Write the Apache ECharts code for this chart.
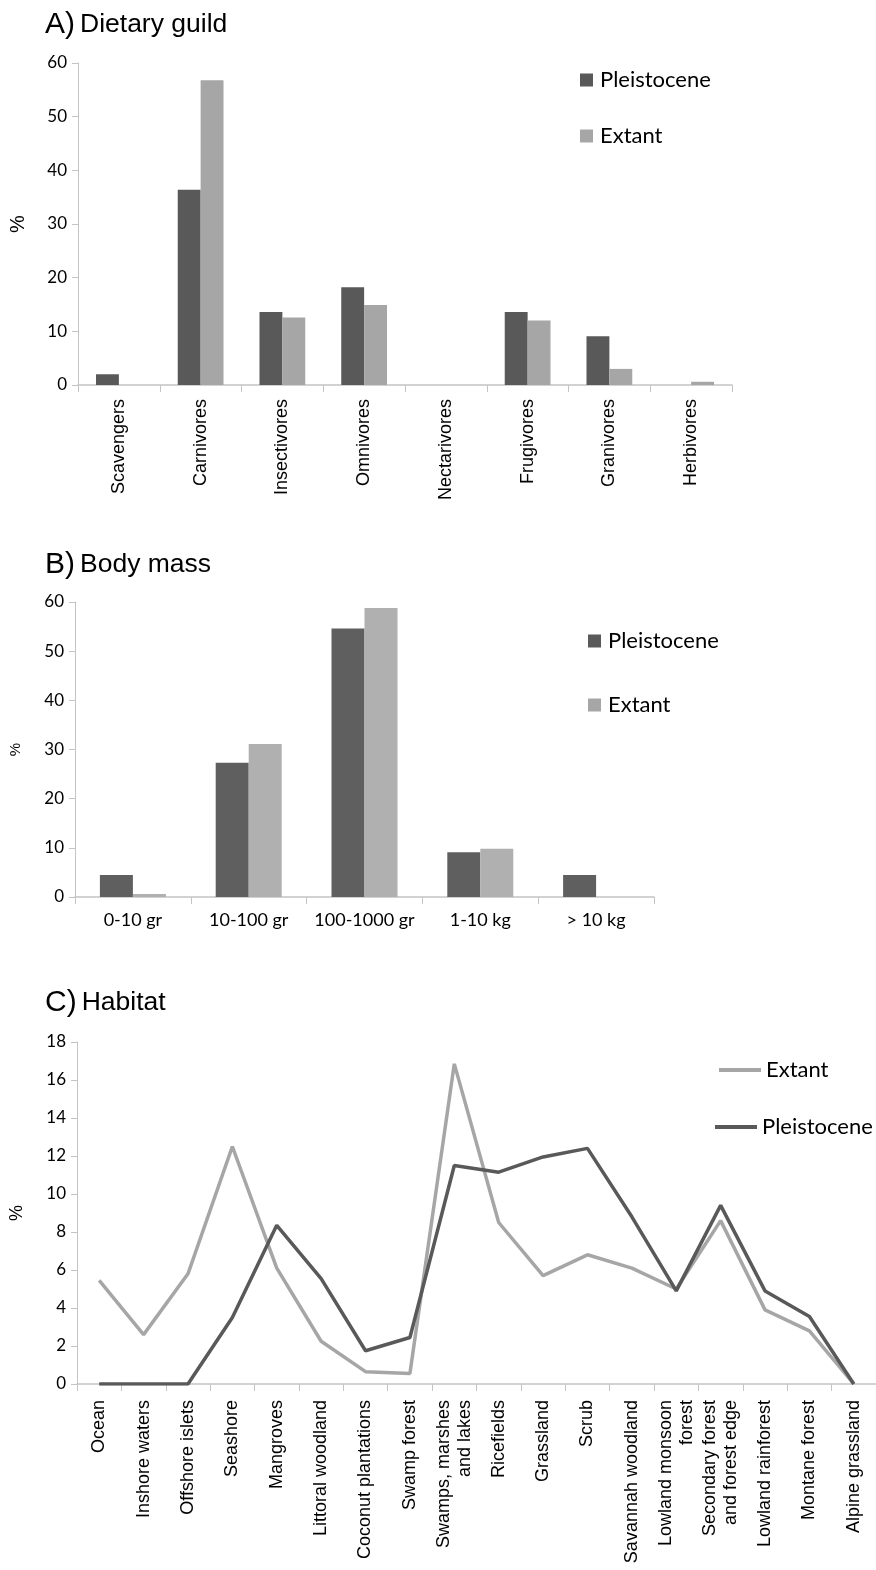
<!DOCTYPE html>
<html>
<head>
<meta charset="utf-8">
<script src="https://cdn.jsdelivr.net/npm/echarts@6/dist/echarts.min.js"></script>
<style>
html,body{margin:0;padding:0;background:#fff;}
#chart{width:876px;height:1570px;}
</style>
</head>
<body>
<div id="chart"></div>
<script>
// ---- Panel A: Dietary guild ----
const dietCategories = ['Scavengers','Carnivores','Insectivores','Omnivores','Nectarivores','Frugivores','Granivores','Herbivores'];
const dietPleistocene = [2.0, 36.4, 13.6, 18.2, 0, 13.6, 9.1, 0];
const dietExtant = [0, 56.8, 12.6, 14.9, 0, 12.0, 3.0, 0.6];

// ---- Panel B: Body mass ----
const massCategories = ['0-10 gr','10-100 gr','100-1000 gr','1-10 kg','> 10 kg'];
const massPleistocene = [4.5, 27.3, 54.6, 9.1, 4.5];
const massExtant = [0.6, 31.1, 58.8, 9.8, 0];

// ---- Panel C: Habitat ----
const habitatCategories = ['Ocean','Inshore waters','Offshore islets','Seashore','Mangroves','Littoral woodland',
  'Coconut plantations','Swamp forest','Swamps, marshes\nand lakes','Ricefields','Grassland','Scrub',
  'Savannah woodland','Lowland monsoon\nforest','Secondary forest\nand forest edge','Lowland rainforest',
  'Montane forest','Alpine grassland'];
const habitatExtant = [5.45, 2.6, 5.8, 12.5, 6.1, 2.25, 0.65, 0.55, 16.85, 8.5, 5.7, 6.8, 6.1, 5.0, 8.6, 3.9, 2.8, 0];
const habitatPleistocene = [0, 0, 0, 3.5, 8.35, 5.55, 1.75, 2.45, 11.5, 11.15, 11.95, 12.4, 8.8, 4.9, 9.4, 4.9, 3.55, 0];

const yTicksA = {min:0, max:60, interval:10};
const yTicksB = {min:0, max:60, interval:10};
const yTicksC = {min:0, max:18, interval:2};

const DARK = '#595959';
const LIGHT = '#a6a6a6';
const AXIS = '#c4c4c4';
const tickFont = 'Lato, "Open Sans", sans-serif';
const arial = '"Liberation Sans", Arial, sans-serif';

function titleOpt(letter, text, top){
  return {
    left: 40, top: top,
    text: '{a|' + letter + ')} {b|' + text + '}',
    textStyle: {
      fontWeight: 'normal',
      rich: {
        a: {fontFamily: arial, fontSize: 30, fontWeight: 'normal', color: '#000'},
        b: {fontFamily: arial, fontSize: 26.5, fontWeight: 'normal', color: '#000'}
      }
    }
  };
}

function yAxisOpt(gi, ticks, nameSize, nameGap){
  return {
    type: 'value', gridIndex: gi, min: ticks.min, max: ticks.max, interval: ticks.interval,
    name: '%', nameLocation: 'middle', nameRotate: 90, nameGap: nameGap,
    nameTextStyle: {fontFamily: arial, fontSize: nameSize, color: '#000'},
    axisLine: {show: true, lineStyle: {color: AXIS, width: 1}},
    axisTick: {show: true, length: 6, lineStyle: {color: AXIS}},
    splitLine: {show: false},
    axisLabel: {fontFamily: tickFont, fontSize: 17, color: '#000', margin: 11}
  };
}

function xAxisOpt(gi, cats, labelOpt){
  return {
    type: 'category', gridIndex: gi, data: cats, boundaryGap: true,
    axisLine: {show: true, lineStyle: {color: AXIS, width: 1.5}},
    axisTick: {show: true, length: 7, interval: 0, alignWithLabel: false, lineStyle: {color: AXIS}},
    axisLabel: Object.assign({interval: 0, color: '#000'}, labelOpt)
  };
}

function legendOpt(name, left, top, icon, w, h, color, pad){
  return {
    left: left, top: top, orient: 'vertical',
    data: [{name: name, icon: icon, itemStyle: {color: color}}],
    itemWidth: w, itemHeight: h,
    selectedMode: false,
    textStyle: {fontFamily: tickFont, fontSize: 22, color: '#000', padding: [0,0,0,pad]}
  };
}

const option = {
  backgroundColor: '#fff',
  animation: false,
  title: [
    titleOpt('A', 'Dietary guild', 5),
    titleOpt('B', 'Body mass', 545),
    titleOpt('C', 'Habitat', 983)
  ],
  legend: [
    legendOpt('Pleistocene', 575, 64, 'rect', 13, 13, DARK, 2),
    legendOpt('Extant', 575, 120, 'rect', 13, 13, LIGHT, 2),
    legendOpt('Pleistocene', 583, 625, 'rect', 13, 13, DARK, 2),
    legendOpt('Extant', 583, 689, 'rect', 13, 13, LIGHT, 2),
    legendOpt('Extant', 714, 1054, 'rect', 42, 4, LIGHT, 0),
    legendOpt('Pleistocene', 710, 1111, 'rect', 42, 4, DARK, 0)
  ],
  grid: [
    {left: 74, top: 63, width: 658, height: 322},
    {left: 74, top: 602, width: 580, height: 295},
    {left: 75, top: 1042, width: 810, height: 342}
  ],
  xAxis: [
    xAxisOpt(0, dietCategories, {rotate: 90, fontFamily: arial, fontSize: 18, margin: 14}),
    xAxisOpt(1, massCategories, {fontFamily: tickFont, fontSize: 18, margin: 14}),
    xAxisOpt(2, habitatCategories, {rotate: 90, fontFamily: arial, fontSize: 18, margin: 16, lineHeight: 21})
  ],
  yAxis: [
    yAxisOpt(0, yTicksA, 20, 50),
    yAxisOpt(1, yTicksB, 15, 52),
    yAxisOpt(2, yTicksC, 18, 51)
  ],
  series: [
    {name: 'Pleistocene', type: 'bar', xAxisIndex: 0, yAxisIndex: 0, data: dietPleistocene,
     itemStyle: {color: DARK}, barGap: '0%', barCategoryGap: '44%'},
    {name: 'Extant', type: 'bar', xAxisIndex: 0, yAxisIndex: 0, data: dietExtant,
     itemStyle: {color: LIGHT}, barGap: '0%', barCategoryGap: '44%'},
    {name: 'Pleistocene', type: 'bar', xAxisIndex: 1, yAxisIndex: 1, data: massPleistocene,
     itemStyle: {color: '#5f5f5f'}, barGap: '0%', barCategoryGap: '43%'},
    {name: 'Extant', type: 'bar', xAxisIndex: 1, yAxisIndex: 1, data: massExtant,
     itemStyle: {color: '#b0b0b0'}, barGap: '0%', barCategoryGap: '43%'},
    {name: 'Extant', type: 'line', xAxisIndex: 2, yAxisIndex: 2, data: habitatExtant,
     showSymbol: false, lineStyle: {color: LIGHT, width: 3.5}, itemStyle: {color: LIGHT}},
    {name: 'Pleistocene', type: 'line', xAxisIndex: 2, yAxisIndex: 2, data: habitatPleistocene,
     showSymbol: false, lineStyle: {color: DARK, width: 3.5}, itemStyle: {color: DARK}}
  ]
};

const chart = echarts.init(document.getElementById('chart'), null, {renderer: 'canvas'});
chart.setOption(option);
</script>
</body>
</html>
